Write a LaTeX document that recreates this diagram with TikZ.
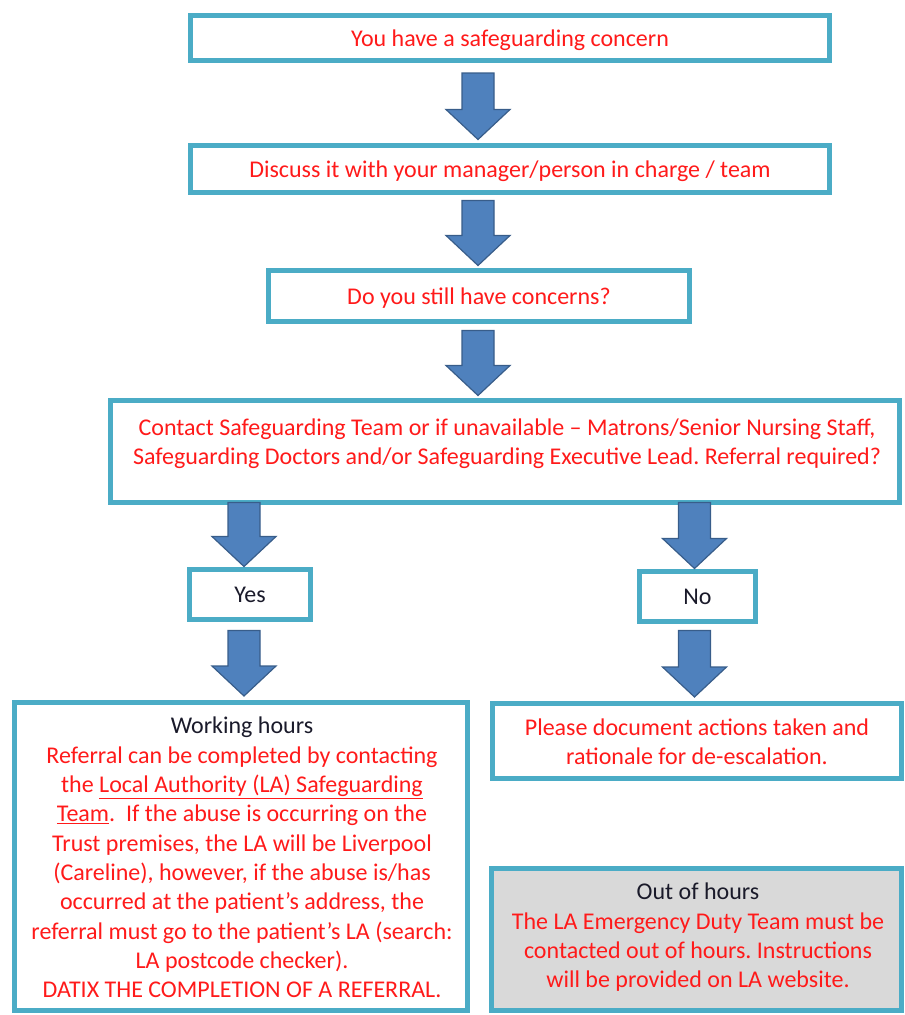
\documentclass[tikz,border=0pt]{standalone}
\usepackage{fontspec}
\setmainfont{Carlito}
\usetikzlibrary{calc}
\frenchspacing
\definecolor{boxline}{HTML}{4BACC6}
\definecolor{arrfill}{HTML}{4F81BD}
\definecolor{arrline}{HTML}{385D8A}
\definecolor{redtxt}{HTML}{FF1A1A}
\definecolor{darktxt}{HTML}{1A1A2A}
\definecolor{greyfill}{HTML}{D9D9D9}
\tikzset{
  flowbox/.style={draw=boxline, line width=5pt, fill=white, inner sep=0pt, outer sep=0pt},
  redtext/.style={text=redtxt, font=\fontsize{24}{29.3}\selectfont, align=center, inner sep=0pt},
  darktext/.style={text=darktxt, font=\fontsize{24}{29.3}\selectfont, align=center, inner sep=0pt},
  barrow/.style={fill=arrfill, draw=arrline, line width=1.2pt, line join=miter},
}
% block arrow: #1 start coordinate (top of shaft), #2 tip coordinate
\newcommand\blockarr[2]{%
  \draw[barrow] let \p1=(#1), \p2=(#2) in
    (\x1-16pt,\y1) -- (\x1+16pt,\y1) -- (\x1+16pt,\y2+30pt) -- (\x1+32pt,\y2+30pt)
    -- (\x1,\y2) -- (\x1-32pt,\y2+30pt) -- (\x1-16pt,\y2+30pt) -- cycle;}
\begin{document}
\begin{tikzpicture}[x=1pt,y=-1pt]
\useasboundingbox (0,0) rectangle (905,1015);
% boxes
\node[flowbox, minimum width=639pt, minimum height=45pt] (b1) at (510,37.5) {};
\node[redtext] (t1) at (510,40) {You have a safeguarding concern};
\node[flowbox, minimum width=639pt, minimum height=47pt] (b2) at (510,169) {};
\node[redtext] (t2) at (510,171) {Discuss it with your manager/person in charge / team};
\node[flowbox, minimum width=421pt, minimum height=51pt] (b3) at (479,296) {};
\node[redtext] (t3) at (479,298) {Do you still have concerns?};
\node[flowbox, minimum width=789pt, minimum height=102pt] (b4) at (505,451.5) {};
\node[redtext] (t4) at (507,443.5) {Contact Safeguarding Team or if unavailable -- Matrons/Senior Nursing Staff,\\Safeguarding Doctors and/or Safeguarding Executive Lead. Referral required?};
\node[flowbox, minimum width=121pt, minimum height=50pt] (yes) at (250,594.5) {};
\node[darktext] (tyes) at (250,595) {Yes};
\node[flowbox, minimum width=116pt, minimum height=50pt] (no) at (697.5,596.5) {};
\node[darktext] (tno) at (697.5,597) {No};
\node[flowbox, minimum width=453pt, minimum height=308pt] (work) at (241,856) {};
\node[redtext] (twork) at (242,857.5) {\textcolor{darktxt}{Working hours}\\
Referral can be completed by contacting\\
the \underline{Local Authority (LA) Safeguarding}\\
\underline{Team}.\ \ If the abuse is occurring on the\\
Trust premises, the LA will be Liverpool\\
(Careline), however, if the abuse is/has\\
occurred at the patient’s address, the\\
referral must go to the patient’s LA (search:\\
LA postcode checker).\\
DATIX THE COMPLETION OF A REFERRAL.};
\node[flowbox, minimum width=409pt, minimum height=75pt] (doc) at (696.5,740.5) {};
\node[redtext] (tdoc) at (697,742) {Please document actions taken and\\rationale for de-escalation.};
\node[flowbox, fill=greyfill, minimum width=410pt, minimum height=142pt] (ooh) at (696,939) {};
\node[redtext] (tooh) at (698,937.5) {\textcolor{darktxt}{Out of hours}\\The LA Emergency Duty Team must be\\contacted out of hours. Instructions\\will be provided on LA website.};
% arrows
\coordinate (a1s) at ($(b1.south)+(-32,13)$);
\coordinate (a1e) at ($(b2.north)+(-32,-6)$);
\blockarr{a1s}{a1e}
\coordinate (a2s) at ($(b2.south)+(-32,8)$);
\coordinate (a2e) at ($(b3.north)+(-1,-5)$);
\blockarr{a2s}{a2e}
\coordinate (a3s) at ($(b3.south)+(-1,9)$);
\coordinate (a3e) at ($(b4.north)+(-27,-5)$);
\blockarr{a3s}{a3e}
\coordinate (a4s) at ($(b4.south -| yes.north)+(-6,0)$);
\coordinate (a4e) at ($(yes.north)+(-6,-3)$);
\blockarr{a4s}{a4e}
\coordinate (a5s) at ($(b4.south -| no.north)+(-3,0)$);
\coordinate (a5e) at ($(no.north)+(-3,-3)$);
\blockarr{a5s}{a5e}
\coordinate (a6s) at ($(yes.south)+(-6,11)$);
\coordinate (a6e) at ($(work.north)+(3,-6)$);
\blockarr{a6s}{a6e}
\coordinate (a7s) at ($(no.south)+(-3,9)$);
\coordinate (a7e) at ($(doc.north)+(-2.5,-6)$);
\blockarr{a7s}{a7e}
\end{tikzpicture}
\end{document}
